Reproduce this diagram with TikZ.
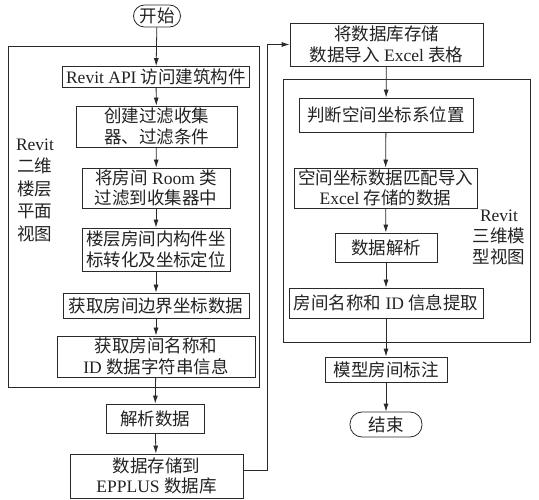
\documentclass[tikz,border=0pt]{standalone}
\usepackage{fontspec}
\setmainfont{Noto Sans CJK SC}
\newfontfamily\lat{Liberation Serif}
\usetikzlibrary{arrows.meta}
\definecolor{ln}{HTML}{2A2A2A}
\definecolor{tx}{HTML}{222222}
\begin{document}
\begin{tikzpicture}[x=1pt,y=-1pt,
  every node/.style={font=\fontsize{17.5}{20.5}\selectfont, text=tx, align=center, inner sep=0pt},
  bx/.style={draw=ln, line width=0.8pt, rectangle},
  term/.style={draw=ln, line width=0.8pt, rectangle, rounded corners=11pt},
  frame/.style={draw=ln, line width=0.8pt},
  arr/.style={draw=ln, line width=0.8pt, -{Latex[length=8pt,width=5pt]}}]
\useasboundingbox (0,0) rectangle (539,500);
% frames
\draw[frame] (8,46) rectangle (259,387);
\draw[frame] (283,79) rectangle (530,342);
% left column
\node[term, minimum width=47pt, minimum height=22pt] (start) at (157,16) {开始};
\node[bx, minimum width=187pt, minimum height=21pt] (b1) at (156,77) {{\lat Revit API }访问建筑构件};
\node[bx, minimum width=161pt, minimum height=41pt] (b2) at (156.5,126.5) {创建过滤收集\\器、过滤条件};
\node[bx, minimum width=148pt, minimum height=40pt] (b3) at (156,188) {将房间{\lat{} Room }类\\过滤到收集器中};
\node[bx, minimum width=148pt, minimum height=43pt] (b4) at (156,249.5) {楼层房间内构件坐\\标转化及坐标定位};
\node[bx, minimum width=186pt, minimum height=25pt] (b5) at (156,305.5) {获取房间边界坐标数据};
\node[bx, minimum width=198pt, minimum height=41pt] (b6) at (156,356.5) {获取房间名称和\\{\lat ID }数据字符串信息};
\node[bx, minimum width=98pt, minimum height=29pt] (b7) at (155,418.5) {解析数据};
\node[bx, minimum width=173pt, minimum height=44pt] (b8) at (156.5,476) {数据存储到\\{\lat EPPLUS }数据库};
\node[font=\fontsize{17.5}{22.5}\selectfont] (ll) at (35,190) {{\lat Revit}\\二维\\楼层\\平面\\视图};
% right column
\node[bx, minimum width=193pt, minimum height=43pt] (rt) at (386.5,44.5) {将数据库存储\\数据导入{\lat{} Excel }表格};
\node[bx, minimum width=174pt, minimum height=34pt] (r1) at (386,115) {判断空间坐标系位置};
\node[bx, minimum width=183pt, minimum height=40pt] (r2) at (385.5,188) {空间坐标数据匹配导入\\{\lat Excel }存储的数据};
\node[bx, minimum width=102pt, minimum height=29pt] (r3) at (386,247.5) {数据解析};
\node[bx, minimum width=194pt, minimum height=30pt] (r4) at (386,303) {房间名称和{\lat{} ID }信息提取};
\node[bx, minimum width=122pt, minimum height=25pt] (r5) at (386,369.5) {模型房间标注};
\node[term, minimum width=72pt, minimum height=25pt, rounded corners=12pt] (end) at (386,424.5) {结束};
\node[font=\fontsize{17.5}{21}\selectfont] (rl) at (499,237) {{\lat Revit}\\三维模\\型视图};
% connectors
\draw[arr] (start) -- (b1);
\draw[arr] (b1) -- (b2);
\draw[arr] (b2) -- (b3);
\draw[arr] (b3) -- (b4);
\draw[arr] (b4) -- (b5);
\draw[arr] (b5) -- (b6);
\draw[arr] (b6) -- (b7);
\draw[arr] (b7) -- (b8);
\coordinate (tu) at (267,0);
\draw[arr] ([yshift=6pt]b8.east) -- ([yshift=6pt]b8.east -| tu) -- (tu |- rt.west) -- (rt.west);
\draw[arr] (rt) -- (r1);
\draw[arr] (r1) -- (r2);
\draw[arr] (r2) -- (r3);
\draw[arr] (r3) -- (r4);
\draw[arr] (r4) -- (r5);
\draw[arr] (r5) -- (end);
\end{tikzpicture}
\end{document}
